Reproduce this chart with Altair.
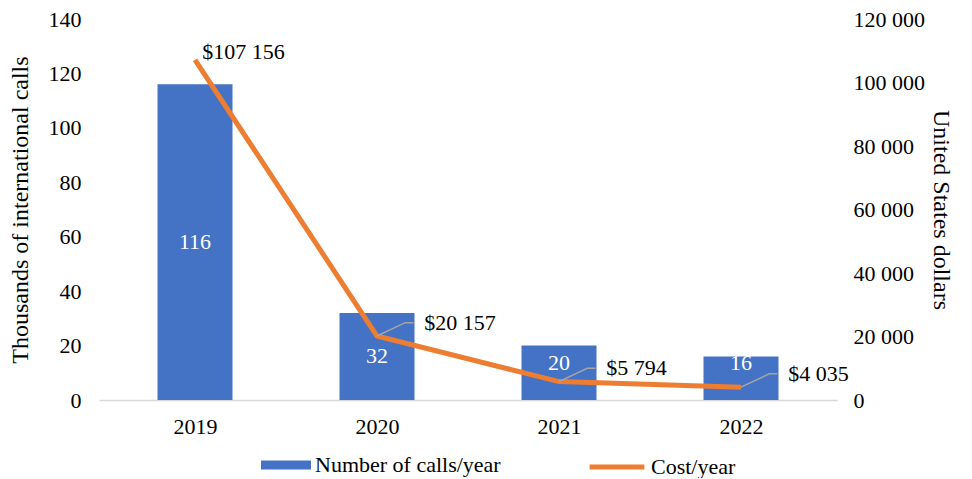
import altair as alt
import pandas as pd

# ---- data ----
years = [2019, 2020, 2021, 2022]
calls = [116, 32, 20, 16]                 # thousands of international calls
costs = [107156, 20157, 5794, 4035]       # US dollars
has_leader = [False, True, True, True]
series = ["Number of calls/year", "Cost/year"]

FONT = "Liberation Serif"
FS = 22
BLUE = "#4472C4"
ORANGE = "#ED7D31"
GRAY = "#A5A5A5"

df = pd.DataFrame({"year": years, "calls": calls, "cost": costs, "leader": has_leader,
                   "s_bar": [series[0]] * 4, "s_line": [series[1]] * 4})

# leader-line paths derived from the data (offset in data units)
rows = []
for yr, c, l in zip(years, costs, has_leader):
    if l:
        rows.append({"id": yr, "o": 0, "x": yr, "v": c})
        rows.append({"id": yr, "o": 1, "x": yr + 0.155, "v": c + 4200})
        rows.append({"id": yr, "o": 2, "x": yr + 0.2, "v": c + 4200})
lead_df = pd.DataFrame(rows)

x_scale = alt.Scale(domain=[2018.5, 2022.5], nice=False, zero=False)
x_axis = alt.Axis(values=years, format="d", title=None, ticks=False, grid=False,
                  domain=True, domainColor="#D9D9D9", domainWidth=1.5,
                  labelFontSize=FS, labelPadding=16, labelColor="#000")

left_axis = alt.Axis(values=list(range(0, 141, 20)), title="Thousands of international calls",
                     grid=False, ticks=False, domain=False, labelFontSize=FS,
                     titleFontSize=24, titleFontWeight="normal", labelPadding=18,
                     titlePadding=16, labelColor="#000", titleColor="#000")
left_scale = alt.Scale(domain=[0, 140], nice=False)

right_axis = alt.Axis(values=list(range(0, 120001, 20000)), title="United States dollars",
                      orient="right", grid=False, ticks=False, domain=False,
                      labelFontSize=FS, titleFontSize=24, titleFontWeight="normal",
                      labelPadding=16, titlePadding=4, labelColor="#000", titleColor="#000",
                      labelExpr="replace(format(datum.value, ','), ',', ' ')")
right_scale = alt.Scale(domain=[0, 120000], nice=False)

base = alt.Chart(df)

bars = base.mark_bar(size=75).encode(
    x=alt.X("year:Q", scale=x_scale, axis=x_axis),
    y=alt.Y("calls:Q", scale=left_scale, axis=left_axis),
    fill=alt.Fill("s_bar:N", scale=alt.Scale(domain=[series[0]], range=[BLUE]),
                  legend=alt.Legend(title=None, orient="none", legendX=162, legendY=421,
                                    symbolType="M-1,-0.18L1,-0.18L1,0.18L-1,0.18Z",
                                    symbolSize=2500, symbolStrokeWidth=0, labelLimit=400,
                                    labelFontSize=FS, labelColor="#000", labelOffset=4)),
)

bar_labels = base.transform_calculate(
    ly="max(datum.calls / 2, 13.5)"
).mark_text(color="white", fontSize=FS, baseline="middle").encode(
    x=alt.X("year:Q", scale=x_scale, axis=x_axis),
    y=alt.Y("ly:Q", scale=left_scale, axis=left_axis),
    text=alt.Text("calls:Q"),
)

line = base.mark_line(strokeWidth=5).encode(
    x=alt.X("year:Q", scale=x_scale, axis=x_axis),
    y=alt.Y("cost:Q", scale=right_scale, axis=right_axis),
    stroke=alt.Stroke("s_line:N", scale=alt.Scale(domain=[series[1]], range=[ORANGE]),
                      legend=alt.Legend(title=None, orient="none", legendX=488, legendY=418,
                                        symbolType="stroke", symbolSize=3000,
                                        symbolStrokeWidth=5, symbolOpacity=1, labelLimit=400,
                                        labelFontSize=FS, labelColor="#000", labelOffset=4)),
)

leaders = alt.Chart(lead_df).mark_line(color=GRAY, strokeWidth=1.5).encode(
    x=alt.X("x:Q", scale=x_scale, axis=x_axis),
    y=alt.Y("v:Q", scale=right_scale, axis=right_axis),
    detail="id:N",
    order="o:Q",
)

cost_labels = base.transform_calculate(
    lx="datum.leader ? datum.year + 0.26 : datum.year + 0.04",
    lv="datum.leader ? datum.cost + 4200 : datum.cost + 2500",
    lbl="'$' + replace(format(datum.cost, ','), ',', ' ')",
).mark_text(align="left", baseline="middle", fontSize=FS, color="#000").encode(
    x=alt.X("lx:Q", scale=x_scale, axis=x_axis),
    y=alt.Y("lv:Q", scale=right_scale, axis=right_axis),
    text="lbl:N",
)

left_layer = alt.layer(bars, bar_labels)
right_layer = alt.layer(line, leaders, cost_labels)

chart = alt.layer(left_layer, right_layer).resolve_scale(
    y="independent"
).properties(
    width=738, height=381,
    padding={"left": 0, "right": 2, "top": 0, "bottom": 0},
).configure(
    font=FONT,
).configure_view(
    strokeWidth=0,
).configure_axis(
    labelFont=FONT, titleFont=FONT,
).configure_legend(
    labelFont=FONT,
).configure_text(
    font=FONT,
)

chart.save("out.html", embed_options={"renderer": "svg", "actions": False})
